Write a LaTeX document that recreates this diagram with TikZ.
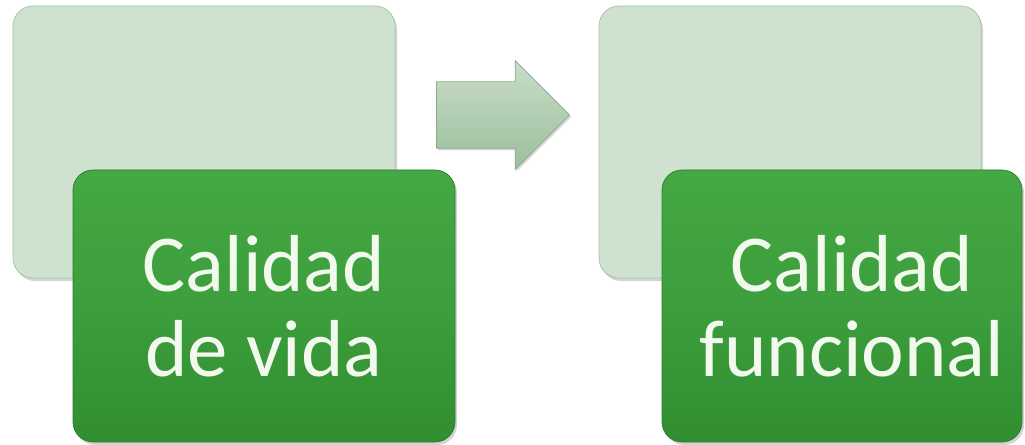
\documentclass[tikz,border=0pt]{standalone}
\usepackage{fontspec}
\setmainfont{Carlito}
\usetikzlibrary{
  positioning,
  shadows,
  shapes.arrows
}
\definecolor{palegreen}{HTML}{CFE2CF}
\definecolor{paleedge}{HTML}{A8C0A8}
\definecolor{leaf}{HTML}{3C9E3C}
\definecolor{leaftop}{HTML}{44A844}
\definecolor{leafdark}{HTML}{318E31}
\definecolor{leafedge}{HTML}{2A7D2A}
\definecolor{arrowtop}{HTML}{C8DDC8}
\definecolor{arrowbottom}{HTML}{9CBE9C}
\definecolor{arrowedge}{HTML}{8AAA8A}
\definecolor{labeltext}{HTML}{F2FAEE}
\tikzset{
  backbox/.style={
    draw=paleedge,
    fill=palegreen,
    rounded corners=0.4cm,
    minimum width=7.64cm,
    minimum height=5.44cm,
    drop shadow={shadow xshift=0.04cm, shadow yshift=-0.06cm,
      opacity=0.35, fill=gray}
  },
  frontbox/.style={
    draw=leafedge,
    top color=leaftop,
    bottom color=leafdark,
    middle color=leaf,
    rounded corners=0.4cm,
    minimum width=7.64cm,
    minimum height=5.44cm,
    align=center,
    text=labeltext,
    font=\fontsize{46}{48.5}\selectfont,
    drop shadow={shadow xshift=0.04cm, shadow yshift=-0.06cm,
      opacity=0.35, fill=gray}
  },
  flowarrow/.style={
    single arrow,
    draw=arrowedge,
    top color=arrowtop,
    bottom color=arrowbottom,
    shape border rotate=0,
    minimum height=2.66cm,
    minimum width=2.16cm,
    single arrow head extend=0.42cm,
    inner xsep=0pt,
    inner ysep=0.66cm,
    drop shadow={shadow xshift=0.03cm, shadow yshift=-0.04cm,
      opacity=0.3, fill=gray}
  }
}

\begin{document}
\begin{tikzpicture}
  \useasboundingbox (0,0) rectangle (20.5,-8.9);

  \node[backbox] (past) at (4.08,-2.84) {};
  \node[frontbox] (vida) at ([shift={(1.2,-3.28)}]past.center)
    {Calidad\\de vida};

  \node[flowarrow, anchor=tip] (step) at (11.40,-2.30) {};

  \node[backbox] (future) at (15.80,-2.84) {};
  \node[frontbox, minimum width=7.2cm] (funcional)
    at ([shift={(1.04,-3.28)}]future.center)
    {\hspace*{0.4cm}Calidad\\\hspace*{0.4cm}funcional};
\end{tikzpicture}
\end{document}
